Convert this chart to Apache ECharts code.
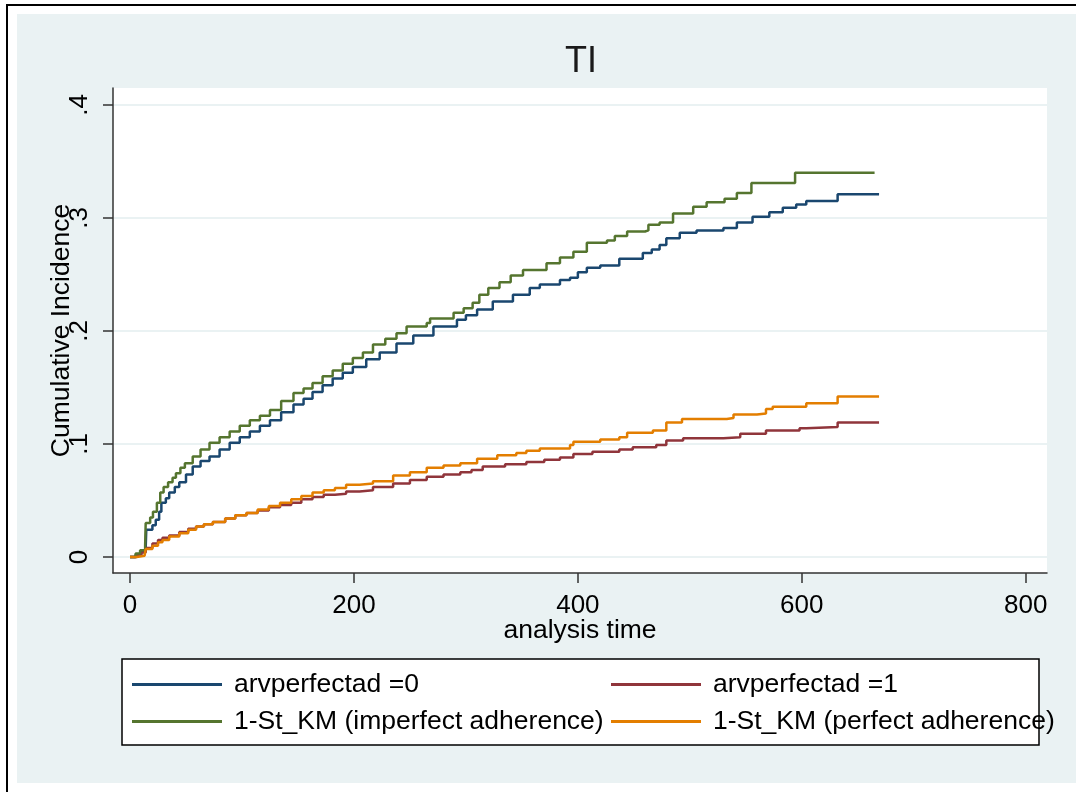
<!DOCTYPE html>
<html>
<head>
<meta charset="utf-8">
<script src="https://cdn.jsdelivr.net/npm/echarts@6/dist/echarts.min.js"></script>
<style>
  html, body { margin: 0; padding: 0; background: #fff; }
  #chart { width: 1076px; height: 792px; }
</style>
</head>
<body>
<div id="chart"></div>
<script>
// cumulative incidence step curves, [analysis time, value]
var arv0 = [
    [0, 0], [5, 0.002], [10, 0.005], [14, 0.008], [14.5, 0.024], [20, 0.028], [23, 0.033], [26, 0.040],
    [28, 0.048], [32, 0.052], [35, 0.057], [40, 0.062], [44, 0.066], [50, 0.073], [56, 0.080], [63, 0.085],
    [71, 0.089], [80, 0.095], [89, 0.101], [98, 0.106], [107, 0.111], [116, 0.116], [125, 0.121], [135, 0.128],
    [146, 0.135], [155, 0.140], [163, 0.146], [172, 0.152], [181, 0.158], [190, 0.163], [199, 0.168], [211, 0.175],
    [223, 0.181], [238, 0.189], [253, 0.196], [271, 0.204], [292, 0.210], [300, 0.214], [310, 0.219], [324, 0.226],
    [342, 0.232], [357, 0.238], [366, 0.241], [384, 0.245], [393, 0.247], [400, 0.252], [408, 0.256], [420, 0.258],
    [437, 0.264], [458, 0.269], [466, 0.272], [473, 0.276], [479, 0.282], [491, 0.287], [506, 0.289], [530, 0.291],
    [542, 0.296], [556, 0.301], [571, 0.305], [583, 0.309], [595, 0.312], [604, 0.315], [632, 0.321], [669, 0.321]
];
var arv1 = [
    [0, 0], [6, 0.002], [10, 0.004], [14, 0.008], [20, 0.012], [25, 0.015], [29, 0.017], [35, 0.019],
    [44, 0.022], [52, 0.025], [59, 0.027], [66, 0.029], [74, 0.031], [85, 0.034], [94, 0.037], [104, 0.039],
    [114, 0.041], [124, 0.044], [134, 0.046], [144, 0.048], [153, 0.051], [163, 0.053], [173, 0.055], [183, 0.056],
    [193, 0.058], [205, 0.059], [217, 0.062], [235, 0.065], [250, 0.068], [265, 0.071], [280, 0.073], [295, 0.075],
    [305, 0.077], [315, 0.080], [335, 0.082], [354, 0.084], [370, 0.086], [384, 0.088], [396, 0.091], [413, 0.093],
    [437, 0.095], [449, 0.097], [470, 0.099], [479, 0.103], [494, 0.105], [530, 0.106], [545, 0.109], [568, 0.112],
    [598, 0.114], [604, 0.115], [632, 0.119], [669, 0.119]
];
var kmImperfect = [
    [0, 0], [5, 0.003], [9, 0.006], [13.5, 0.010], [14, 0.030], [18, 0.035], [20.5, 0.040], [24, 0.048],
    [27, 0.057], [30, 0.062], [34, 0.066], [38, 0.070], [41, 0.074], [45, 0.079], [49, 0.083], [56, 0.089],
    [63, 0.095], [71, 0.101], [80, 0.106], [89, 0.111], [98, 0.116], [107, 0.121], [116, 0.125], [125, 0.130],
    [135, 0.138], [146, 0.145], [155, 0.149], [163, 0.154], [172, 0.160], [181, 0.165], [190, 0.171], [199, 0.176],
    [208, 0.181], [217, 0.188], [228, 0.193], [238, 0.198], [247, 0.204], [265, 0.207], [268, 0.211], [289, 0.216],
    [298, 0.220], [306, 0.225], [312, 0.232], [320, 0.238], [330, 0.243], [340, 0.249], [351, 0.254], [372, 0.260],
    [384, 0.265], [396, 0.270], [408, 0.278], [426, 0.280], [433, 0.284], [444, 0.288], [460, 0.289], [463, 0.294],
    [473, 0.296], [485, 0.304], [503, 0.310], [515, 0.314], [531, 0.317], [542, 0.322], [555, 0.331], [594, 0.340],
    [665, 0.340]
];
var kmPerfect = [
    [0, 0], [6, 0.001], [13, 0.002], [14, 0.007], [20, 0.010], [25, 0.013], [29, 0.015], [35, 0.018],
    [44, 0.021], [52, 0.024], [59, 0.027], [66, 0.029], [74, 0.031], [85, 0.034], [94, 0.037], [104, 0.039],
    [114, 0.042], [124, 0.045], [134, 0.048], [144, 0.051], [153, 0.054], [163, 0.057], [173, 0.059], [183, 0.061],
    [193, 0.064], [205, 0.065], [217, 0.067], [235, 0.072], [250, 0.075], [265, 0.079], [280, 0.081], [295, 0.083],
    [310, 0.087], [328, 0.090], [345, 0.092], [354, 0.094], [366, 0.096], [393, 0.099], [396, 0.102], [420, 0.104],
    [437, 0.106], [444, 0.110], [467, 0.112], [479, 0.119], [493, 0.122], [533, 0.123], [539, 0.126], [560, 0.127],
    [568, 0.131], [574, 0.133], [604, 0.136], [632, 0.142], [669, 0.142]
];

var seriesNames = ['arvperfectad =0', 'arvperfectad =1', '1-St_KM (imperfect adherence)', '1-St_KM (perfect adherence)'];
var xTicks = [0, 200, 400, 600, 800];
var yTicks = [0, 0.1, 0.2, 0.3, 0.4];
var yTickLabels = ['0', '.1', '.2', '.3', '.4'];

var font = '"Liberation Sans", Arial, sans-serif';
var colors = ['#1A476F', '#90353B', '#55752F', '#E37E00'];

var myChart = echarts.init(document.getElementById('chart'), null, { renderer: 'canvas' });

function stepSeries(name, data, color) {
    return {
        name: name,
        type: 'line',
        step: 'end',
        data: data,
        symbol: 'none',
        animation: false,
        z: 3,
        lineStyle: { color: color, width: 2.5 },
        itemStyle: { color: color }
    };
}

var legendBase = {
    orient: 'vertical',
    top: 671,
    padding: 0,
    itemGap: 10,
    itemWidth: 90,
    itemHeight: 3,
    icon: 'rect',
    textStyle: { fontFamily: font, fontSize: 26.5, color: '#000', padding: [0, 0, 0, 7] }
};

var option = {
    backgroundColor: '#fff',
    animation: false,
    title: {
        text: 'TI',
        left: 565,
        top: 44,
        padding: 0,
        textStyle: { fontFamily: font, fontSize: 36, fontWeight: 'normal', color: '#1a1a1a' }
    },
    graphic: [
        { type: 'rect', z: -100, shape: { x: 7, y: 5, width: 1200, height: 900 }, style: { fill: '#fff', stroke: '#000', lineWidth: 2 } },
        { type: 'rect', z: -99, shape: { x: 17, y: 14, width: 1100, height: 769 }, style: { fill: '#EAF2F3' } },
        { type: 'rect', z: -98, shape: { x: 122, y: 659, width: 917, height: 86 }, style: { fill: '#fff', stroke: '#000', lineWidth: 1.5 } }
    ],
    legend: [
        Object.assign({ left: 132, data: [seriesNames[0], seriesNames[2]] }, legendBase),
        Object.assign({ left: 611, data: [seriesNames[1], seriesNames[3]] }, legendBase)
    ],
    grid: {
        left: 113, right: 29, top: 88, bottom: 219,
        show: true, backgroundColor: '#fff', borderWidth: 0
    },
    xAxis: {
        type: 'value',
        min: -15.2,
        max: 819,
        axisLine: { onZero: false, lineStyle: { color: '#333', width: 1.5 } },
        axisTick: { length: 10, customValues: xTicks, lineStyle: { color: '#333', width: 1.5 } },
        axisLabel: { customValues: xTicks, margin: 20, fontFamily: font, fontSize: 26, color: '#000' },
        splitLine: { show: false },
        name: 'analysis time',
        nameLocation: 'middle',
        nameGap: 44,
        nameMoveOverlap: false,
        nameTextStyle: { fontFamily: font, fontSize: 26.5, color: '#000' }
    },
    yAxis: {
        type: 'value',
        min: -0.0142,
        max: 0.415,
        axisLine: { show: true, onZero: false, lineStyle: { color: '#333', width: 1.5 } },
        axisTick: { show: true, length: 10, customValues: yTicks, lineStyle: { color: '#333', width: 1.5 } },
        axisLabel: {
            customValues: yTicks,
            rotate: 90,
            margin: 20,
            fontFamily: font, fontSize: 26, color: '#000',
            formatter: function (v) {
                var i = yTicks.indexOf(v);
                return i >= 0 ? yTickLabels[i] : '';
            }
        },
        splitLine: { show: true, lineStyle: { color: '#EAF2F3', width: 2 } },
        name: 'Cumulative Incidence',
        nameLocation: 'middle',
        nameGap: 38,
        nameMoveOverlap: false,
        nameTextStyle: { fontFamily: font, fontSize: 26.5, color: '#000' }
    },
    series: [
        stepSeries(seriesNames[0], arv0, colors[0]),
        stepSeries(seriesNames[1], arv1, colors[1]),
        stepSeries(seriesNames[2], kmImperfect, colors[2]),
        stepSeries(seriesNames[3], kmPerfect, colors[3])
    ]
};

myChart.setOption(option);
window.addEventListener('resize', myChart.resize);
</script>
</body>
</html>
